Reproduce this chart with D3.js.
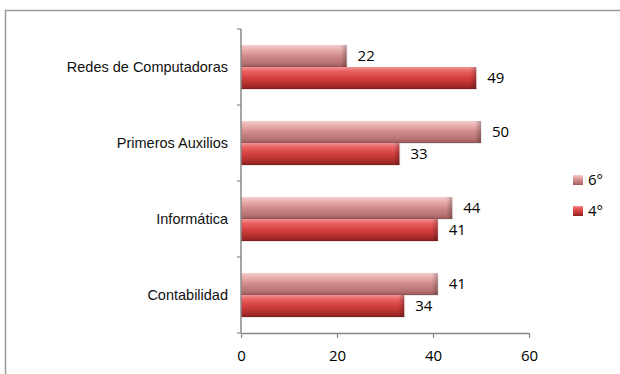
<!DOCTYPE html>
<html><head><meta charset="utf-8">
<script src="https://cdn.jsdelivr.net/npm/d3@7/dist/d3.min.js"></script>
<style>body{margin:0;background:#fff;}svg{display:block;}</style>
</head><body>
<svg id="c" width="620" height="374"></svg>
<script>
const categories = ["Redes de Computadoras", "Primeros Auxilios", "Informática", "Contabilidad"];
const seriesNames = ["6°", "4°"];
const values6 = [22, 50, 44, 41];
const values4 = [49, 33, 41, 34];
const xTicks = [0, 20, 40, 60];

const svg = d3.select("#c");
const defs = svg.append("defs");
function grad(id, stops) {
  const g = defs.append("linearGradient").attr("id", id).attr("x1", 0).attr("y1", 0).attr("x2", 0).attr("y2", 1);
  stops.forEach(s => g.append("stop").attr("offset", s[0]).attr("stop-color", s[1]));
}
grad("g6", [[0, "#f6cccc"], [0.2, "#eab0b0"], [0.5, "#cf8a8a"], [0.8, "#b87474"], [1, "#9a5a5a"]]);
grad("g4", [[0, "#f39494"], [0.2, "#e86060"], [0.5, "#d44040"], [0.8, "#b02e2e"], [1, "#8a2020"]]);
const capGrad = defs.append("linearGradient").attr("id", "cap").attr("x1", 0).attr("y1", 0).attr("x2", 1).attr("y2", 0);
capGrad.append("stop").attr("offset", 0).attr("stop-color", "#000").attr("stop-opacity", 0);
capGrad.append("stop").attr("offset", 1).attr("stop-color", "#000").attr("stop-opacity", 0.25);
const fills = ["url(#g6)", "url(#g4)"];

// outer border
svg.append("path").attr("d", "M5.5,374 V10.5 H620").attr("fill", "none").attr("stroke", "#9a9a9a").attr("stroke-width", 1.5);

const x = d3.scaleLinear().domain([0, 60]).range([241, 529]);
const y = d3.scaleBand().domain(categories).range([29, 333]).padding(0);
const inner = d3.scaleBand().domain(seriesNames).range([0, y.bandwidth()]).paddingInner(0).paddingOuter(0.727);

const data = categories.map((c, i) => ({ cat: c, vals: [values6[i], values4[i]] }));

const g = svg.append("g");
data.forEach(d => {
  d.vals.forEach((v, si) => {
    const y0 = y(d.cat) + inner(seriesNames[si]);
    const h = inner.bandwidth();
    const bx = x(0), bw = x(v) - x(0);
    g.append("rect").attr("x", bx).attr("y", y0 + 1).attr("width", bw + 1).attr("height", h).attr("fill", "#000").attr("opacity", 0.08);
    g.append("rect").attr("x", bx).attr("y", y0).attr("width", bw).attr("height", h).attr("fill", fills[si]);
    g.append("rect").attr("x", x(v) - 6).attr("y", y0).attr("width", 6).attr("height", h).attr("fill", "url(#cap)");
    g.append("line").attr("x1", bx).attr("x2", x(v)).attr("y1", y0 + h - 0.5).attr("y2", y0 + h - 0.5).attr("stroke", si ? "#7a1a1a" : "#8a5050").attr("stroke-opacity", 0.6);
    g.append("text").attr("x", x(v) + 11).attr("y", y0 + h / 2 + 1).attr("dominant-baseline", "middle")
      .attr("font-family", "Open Sans, sans-serif").attr("font-size", 15).attr("fill", "#000").text(v);
  });
});

// y axis
const yAxisG = svg.append("g").attr("transform", `translate(${x(0)},0)`);
yAxisG.append("line").attr("x1", 0).attr("x2", 0).attr("y1", 29).attr("y2", 333).attr("stroke", "#888").attr("stroke-width", 1.5);
const boundaries = categories.map(c => y(c)).concat([y.range()[1]]);
boundaries.forEach(b => yAxisG.append("line").attr("x1", -4).attr("x2", 0).attr("y1", b).attr("y2", b).attr("stroke", "#888").attr("stroke-width", 1.2));
categories.forEach(c => {
  svg.append("text").attr("x", 228).attr("y", y(c) + y.bandwidth() / 2 + 1).attr("text-anchor", "end").attr("dominant-baseline", "middle")
    .attr("font-family", "Liberation Sans, Arial, sans-serif").attr("font-size", 14.5).attr("fill", "#111").text(c);
});

// x axis
const xAxis = d3.axisBottom(x).tickValues(xTicks).tickSize(5).tickSizeOuter(0);
const xg = svg.append("g").attr("transform", "translate(0,333)").call(xAxis);
xg.select(".domain").attr("stroke", "#888").attr("stroke-width", 1.5);
xg.selectAll(".tick line").attr("stroke", "#888").attr("stroke-width", 1.2);
xg.selectAll(".tick text").attr("font-family", "Open Sans, sans-serif").attr("font-size", 15).attr("fill", "#000").attr("dy", "1.35em");

// legend
seriesNames.forEach((s, i) => {
  const ly = 175 + i * 31;
  svg.append("rect").attr("x", 573).attr("y", ly).attr("width", 10).attr("height", 10).attr("fill", fills[i]);
  svg.append("text").attr("x", 588).attr("y", ly + 6).attr("dominant-baseline", "middle")
    .attr("font-family", "Open Sans, sans-serif").attr("font-size", 15).attr("fill", "#000").text(s);
});
</script>
</body></html>
